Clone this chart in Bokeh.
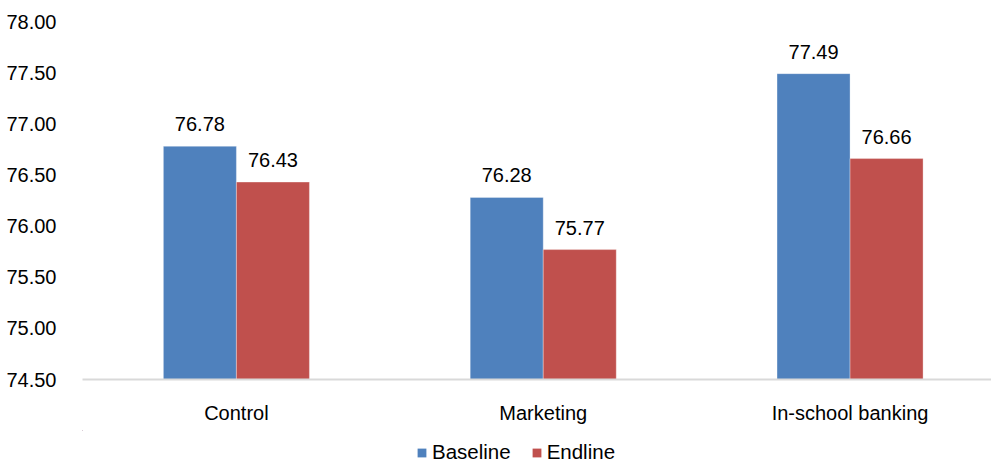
from bokeh.plotting import figure
from bokeh.layouts import column
from bokeh.models import ColumnDataSource, FixedTicker, NumeralTickFormatter, Legend, LegendItem, LabelSet, Range1d
from bokeh.core.properties import value
from bokeh.embed import file_html
from bokeh.resources import INLINE

categories = ["Control", "Marketing", "In-school banking"]
series_names = ["Baseline", "Endline"]
baseline = [76.78, 76.28, 77.49]
endline = [76.43, 75.77, 76.66]
y_ticks = [74.5, 75.0, 75.5, 76.0, 76.5, 77.0, 77.5, 78.0]

FONT = "Liberation Sans"
BLUE = "#4F81BD"
RED = "#C0504D"
W = 0.238

xs = list(range(len(categories)))
src_b = ColumnDataSource(dict(x=[i - W / 2 for i in xs], top=baseline, lbl=[f"{v:.2f}" for v in baseline]))
src_e = ColumnDataSource(dict(x=[i + W / 2 for i in xs], top=endline, lbl=[f"{v:.2f}" for v in endline]))

p = figure(width=991, height=430, output_backend="svg", toolbar_location=None,
           x_range=Range1d(-0.5016, 2.461), y_range=Range1d(74.5, 78.0),
           min_border_left=82, min_border_right=0, min_border_top=21, min_border_bottom=51)
p.outline_line_color = None
p.grid.visible = False

bar_style = dict(line_color="white", line_alpha=0.4, line_width=0.8)
p.vbar(x="x", top="top", bottom=74.5, width=W, source=src_b, fill_color=BLUE, **bar_style)
p.vbar(x="x", top="top", bottom=74.5, width=W, source=src_e, fill_color=RED, **bar_style)

for src in (src_b, src_e):
    p.add_layout(LabelSet(x="x", y="top", text="lbl", source=src, text_align="center",
                          text_baseline="alphabetic", y_offset=15, text_font=value(FONT),
                          text_font_size=value("20px"), text_color="#000000"))

# y axis
p.yaxis.ticker = FixedTicker(ticks=y_ticks)
p.yaxis.formatter = NumeralTickFormatter(format="0.00")
p.yaxis.axis_line_color = None
p.yaxis.major_tick_line_color = None
p.yaxis.minor_tick_line_color = None
p.yaxis.major_label_standoff = 20
p.yaxis.major_label_text_font = FONT
p.yaxis.major_label_text_font_size = "20px"
p.yaxis.major_label_text_color = "#000000"

# x axis
p.xaxis.ticker = FixedTicker(ticks=xs)
p.xaxis.major_label_overrides = {i: c for i, c in enumerate(categories)}
p.xaxis.axis_line_color = "#D9D9D9"
p.xaxis.axis_line_width = 2
p.xaxis.major_tick_line_color = None
p.xaxis.minor_tick_line_color = None
p.xaxis.major_label_standoff = 16
p.xaxis.major_label_text_font = FONT
p.xaxis.major_label_text_font_size = "20px"
p.xaxis.major_label_text_color = "#000000"

# legend strip (its bars lie outside its own ranges, only the legend shows)
lg = figure(width=991, height=34, output_backend="svg", toolbar_location=None,
            x_range=Range1d(100, 200), y_range=Range1d(0, 1),
            x_axis_type=None, y_axis_type=None,
            min_border_left=0, min_border_right=0, min_border_top=0, min_border_bottom=0)
lg.outline_line_color = None
lg.grid.visible = False
d_b = lg.vbar(x="x", top="top", bottom=74.5, width=W, source=src_b, fill_color=BLUE, line_color=None)
d_e = lg.vbar(x="x", top="top", bottom=74.5, width=W, source=src_e, fill_color=RED, line_color=None)
legend = Legend(items=[LegendItem(label=series_names[0], renderers=[d_b]),
                       LegendItem(label=series_names[1], renderers=[d_e])],
                orientation="horizontal", location=(334, 0),
                glyph_width=11, glyph_height=11, label_standoff=5, spacing=20,
                padding=0, margin=0, border_line_color=None, background_fill_alpha=0,
                label_text_font=FONT, label_text_font_size="20.5px", label_text_color="#000000",
                label_height=11)
lg.add_layout(legend, "center")

layout = column(p, lg, spacing=0)
open("out.html", "w").write(file_html(layout, INLINE))
